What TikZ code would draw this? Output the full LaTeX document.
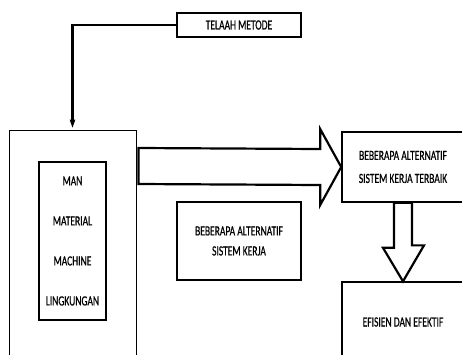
\documentclass[tikz,border=0pt]{standalone}
\usepackage{fontspec}
\setmainfont{Carlito}[FakeStretch=0.68, FakeBold=0.6]
\usetikzlibrary{arrows.meta,calc}
\begin{document}
\begin{tikzpicture}[x=1pt, y=-1pt,
    box/.style={draw, line width=1.6pt, align=center, inner sep=0pt,
      font=\fontsize{14}{22}\selectfont},
    fatarrow/.style={draw, line width=2.2pt, fill=white, line join=miter}]
    \useasboundingbox (0,0) rectangle (462,354);
    \clip (0,0) rectangle (462,354);

    % Method study
    \node[box, minimum width=124pt, minimum height=24pt] (telaah) at (239,25) {TELAAH METODE};

    % Work system factors
    \node[box, line width=1pt, minimum width=127pt, minimum height=230pt] (factors) at (72.5,245) {};
    \node[box, line width=1.2pt, minimum width=67pt, minimum height=158pt,
      font=\fontsize{14}{40}\selectfont] (inputs) at (72.5,241) {MAN\\MATERIAL\\MACHINE\\LINGKUNGAN};

    % Alternatives and result
    \node[box, minimum width=124pt, minimum height=78pt,
      font=\fontsize{14}{20}\selectfont] (alternatif) at (239,241) {BEBERAPA ALTERNATIF\\SISTEM KERJA};
    \node[box, minimum width=122pt, minimum height=70pt,
      font=\fontsize{14}{23}\selectfont] (terbaik) at (403,167) {BEBERAPA ALTERNATIF\\SISTEM KERJA TERBAIK};
    \node[box, line width=1.3pt, minimum width=122pt, minimum height=80pt] (efisien) at (403,322) {EFISIEN DAN EFEKTIF};

    % Method study feeds the factors
    \draw[line width=2.2pt, -{Triangle[length=9pt,width=5pt]}, shorten >=1pt] (telaah.west) -| (factors.north);

    % Fat arrows
    \draw[fatarrow] (terbaik.west) -- ++(-21,-38) -- ++(0,20) -- ($(factors.east |- 0,148)+(2,0)$)
      -- ++(0,36) -- ($(terbaik.west)+(-21,18)$) -- ++(0,20) -- cycle;
    \draw[fatarrow] (efisien.north) -- ++(21,-36) -- ++(-12,0) -- ($(terbaik.south)+(9,0)$)
      -- ++(-18,0) -- ++(0,45) -- ++(-11,0) -- cycle;
\end{tikzpicture}
\end{document}
